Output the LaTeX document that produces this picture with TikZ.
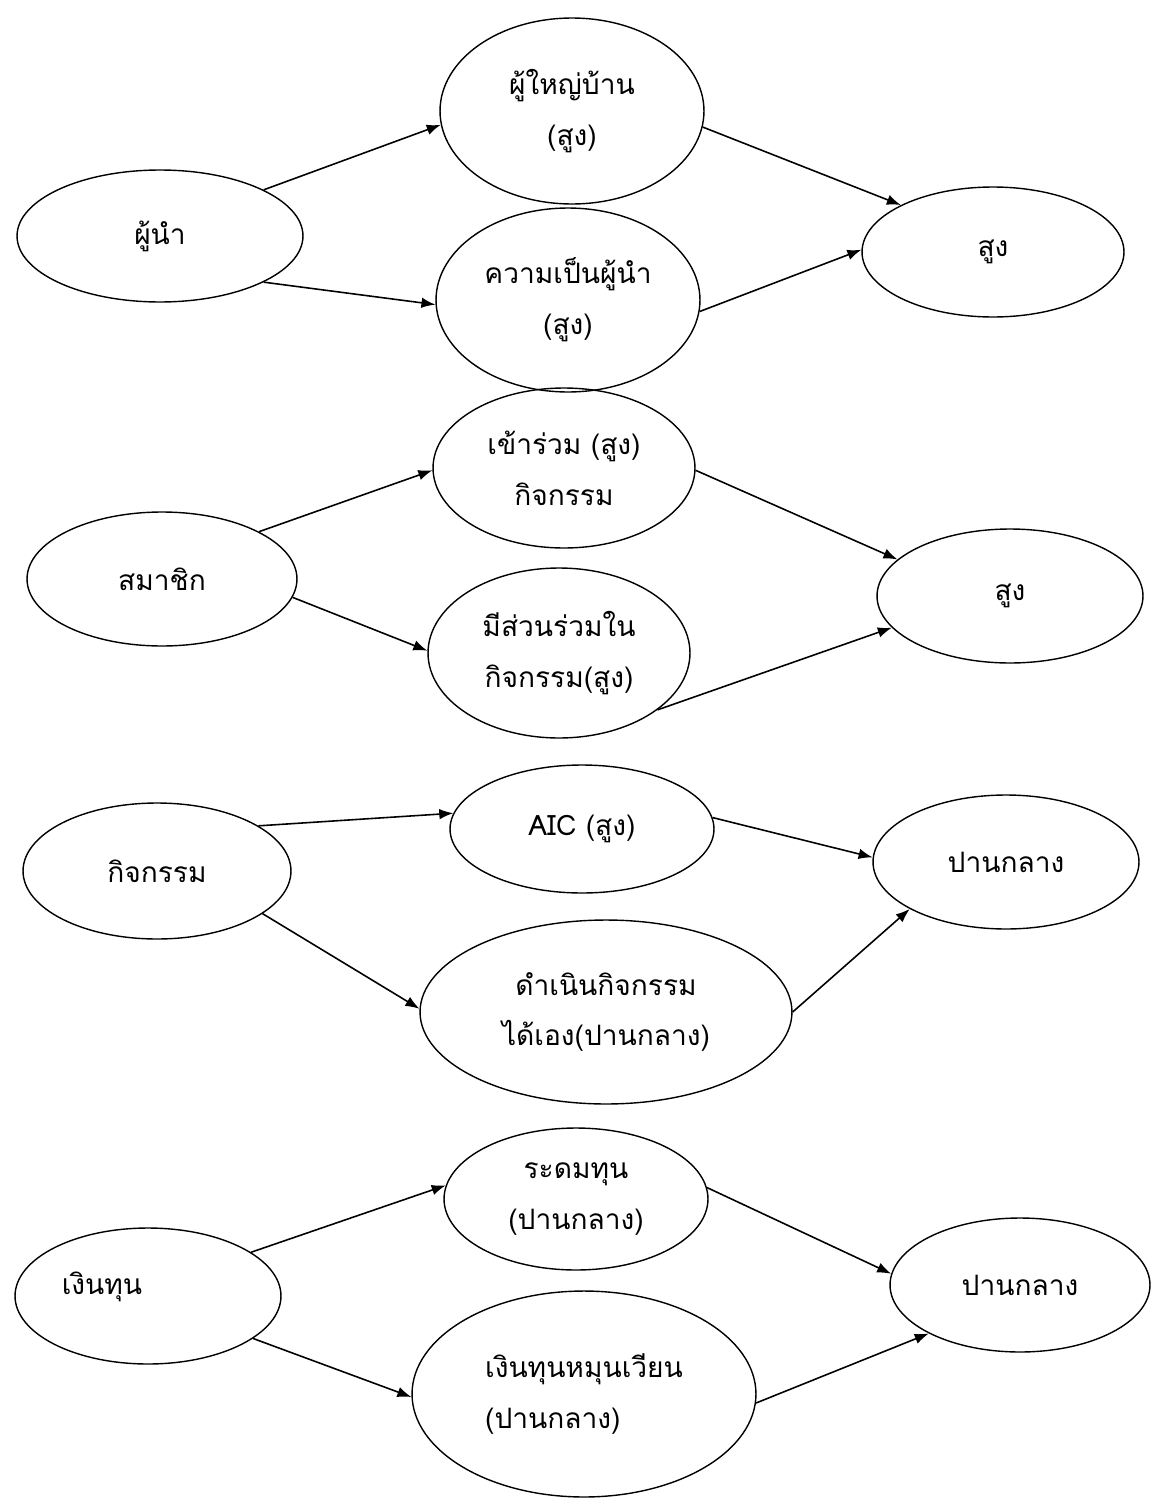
\documentclass[tikz,border=0pt]{standalone}
\usepackage{fontspec}
\setmainfont{Loma}[Script=Thai]
\usetikzlibrary{shapes.geometric,arrows.meta}

\begin{document}
\begin{tikzpicture}[x=0.02cm,y=-0.02cm,
	oval/.style={draw,ellipse,line width=0.8pt,inner sep=0pt,align=center,font=\fontsize{16}{29}\selectfont},
	link/.style={-{Latex[length=8pt,width=6pt]},line width=0.9pt}]
	\useasboundingbox (0,0) rectangle (1150,1501);

	% leader
	\node[oval,minimum width=5.72cm,minimum height=2.64cm] (leader) at (160,236) {ผู้นำ};
	\node[oval,minimum width=5.28cm,minimum height=3.72cm] (headman) at (572,111) {ผู้ใหญ่บ้าน\\(สูง)};
	\node[oval,minimum width=5.28cm,minimum height=3.68cm] (leadship) at (568,300) {ความเป็นผู้นำ\\(สูง)};
	\node[oval,minimum width=5.24cm,minimum height=2.6cm] (high1) at (993,252) {สูง};

	\draw[link] (leader.24) -- (headman.186);
	\draw[link] (leader.336) -- (leadship.182);
	\draw[link] (headman.353) -- (high1.153);
	\draw[link] (leadship.355) -- (high1.179);

	% member
	\node[oval,minimum width=5.4cm,minimum height=2.68cm] (member) at (162,579) {สมาชิก};
	\node[oval,minimum width=5.24cm,minimum height=3.2cm] (join) at (564,468) {เข้าร่วม (สูง)\\กิจกรรม};
	\node[oval,minimum width=5.24cm,minimum height=3.4cm] (share) at (559,653) {มีส่วนร่วมใน\\กิจกรรม(สูง)};
	\node[oval,minimum width=5.32cm,minimum height=2.68cm] (high2) at (1010,596) {สูง};

	\draw[link] (member.26) -- (join.181);
	\draw[link] (member.352) -- (share.179);
	\draw[link] (join.359) -- (high2.162);
	\draw[link] (share.330) -- (high2.195);

	% activity
	\node[oval,minimum width=5.36cm,minimum height=2.72cm] (act) at (157,871) {กิจกรรม};
	\node[oval,minimum width=5.28cm,minimum height=2.56cm] (aic) at (582,829) {AIC (สูง)};
	\node[oval,minimum width=7.44cm,minimum height=3.68cm] (selfrun) at (606,1012) {ดำเนินกิจกรรม\\ได้เอง(ปานกลาง)};
	\node[oval,minimum width=5.32cm,minimum height=2.68cm] (mid1) at (1006,862) {ปานกลาง};

	\draw[link] (act.24) -- (aic.173);
	\draw[link] (act.338) -- (selfrun.179);
	\draw[link] (aic.5) -- (mid1.178);
	\draw[link] (selfrun.0) -- (mid1.206);

	% fund
	\node[oval,minimum width=5.32cm,minimum height=2.72cm,label={[xshift=-0.92cm,yshift=0.18cm,font=\fontsize{16}{29}\selectfont]center:เงินทุน}] (fund) at (148,1296) {};
	\node[oval,minimum width=5.28cm,minimum height=2.84cm] (raise) at (576,1199) {ระดมทุน\\(ปานกลาง)};
	\node[oval,minimum width=6.88cm,minimum height=4.12cm,align=left] (revolve) at (584,1394) {เงินทุนหมุนเวียน\\(ปานกลาง)};
	\node[oval,minimum width=5.2cm,minimum height=2.68cm] (mid2) at (1020,1285) {ปานกลาง};

	\draw[link] (fund.23) -- (raise.174);
	\draw[link] (fund.338) -- (revolve.181);
	\draw[link] (raise.5) -- (mid2.175);
	\draw[link] (revolve.357) -- (mid2.208);

\end{tikzpicture}
\end{document}
